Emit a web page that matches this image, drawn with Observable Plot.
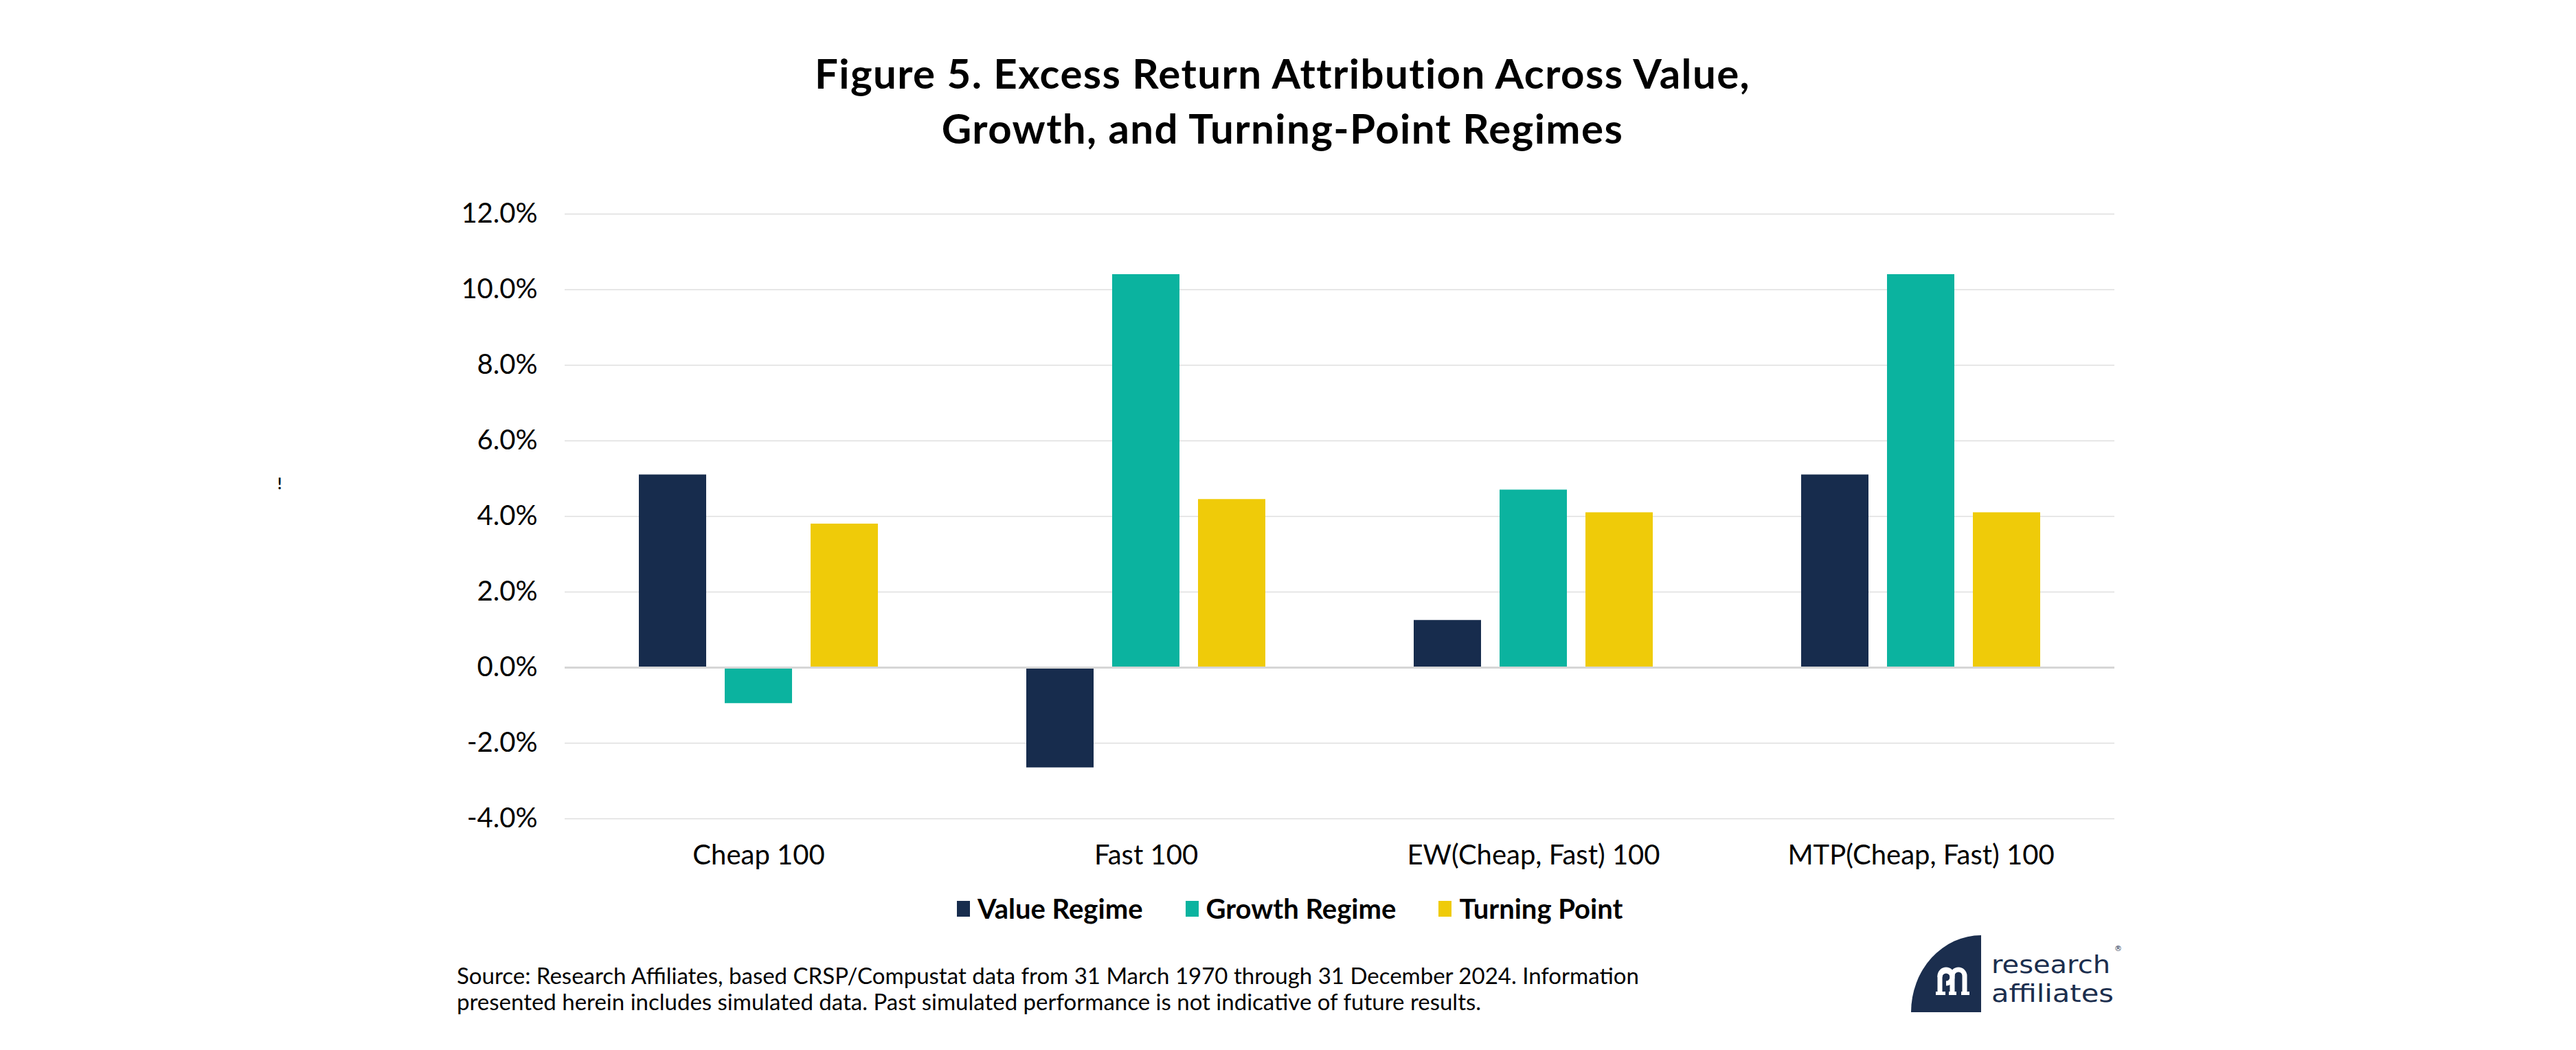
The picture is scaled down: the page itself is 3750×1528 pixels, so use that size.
<!DOCTYPE html>
<html>
<head>
<meta charset="utf-8">
<script src="https://cdn.jsdelivr.net/npm/d3@7"></script>
<script src="https://cdn.jsdelivr.net/npm/@observablehq/plot@0.6"></script>
<style>
  html, body { margin: 0; padding: 0; background: #fff; }
  #page { position: relative; width: 3750px; height: 1528px; overflow: hidden; font-family: Lato, "Open Sans", sans-serif; color: #000; }
  .abs { position: absolute; }
  #title { left: 0; width: 3734px; top: 66px; text-align: center; font-weight: 700; font-size: 60px; letter-spacing: 1.4px; line-height: 80px; }
  #chart { left: 0; top: 250px; }
  #legend { left: 1393px; top: 1302px; display: flex; align-items: center; font-weight: 700; font-size: 40px; line-height: 40px; }
  .item { display: flex; align-items: center; margin-right: 62px; }
  .sw { width: 19px; height: 23px; margin-right: 11px; }
  #source { left: 665px; top: 1400px; font-size: 33px; line-height: 38px; }
  #bang { left: 404px; top: 690px; font-size: 22px; font-weight: 700; }
</style>
</head>
<body>
<div id="page">
  <div id="title" class="abs">Figure 5. Excess Return Attribution Across Value,<br>Growth, and Turning-Point Regimes</div>
  <div id="bang" class="abs">!</div>
  <div id="chart" class="abs"></div>
  <div id="legend" class="abs"></div>
  <div id="source" class="abs">Source: Research Affiliates, based CRSP/Compustat data from 31 March 1970 through 31 December 2024. Information<br>presented herein includes simulated data. Past simulated performance is not indicative of future results.</div>
  <svg class="abs" style="left:0;top:0" width="3750" height="1528">
    <path d="M2884,1473 H2782 A102,112 0 0 1 2884,1361 Z" fill="#1b2e4e"/>
    <g fill="none" stroke="#fff" stroke-width="7">
      <path d="M2824,1447 V1420 A9,9 0 0 1 2842,1420 V1447"/>
      <path d="M2842,1420 A9,9 0 0 1 2860,1420 V1447"/>
      <path d="M2824,1422 A9,9 0 1 1 2833,1431"/>
    </g>
    <g fill="#fff">
      <rect x="2818" y="1443" width="14" height="5"/>
      <rect x="2837" y="1443" width="11" height="5"/>
      <rect x="2855" y="1443" width="12" height="5"/>
    </g>
    <text x="2899" y="1416" font-family="'DejaVu Sans', sans-serif" font-size="35" fill="#1b2e4e" textLength="173" lengthAdjust="spacingAndGlyphs">research</text>
    <text x="2899" y="1458" font-family="'DejaVu Sans', sans-serif" font-size="35" fill="#1b2e4e" textLength="178" lengthAdjust="spacingAndGlyphs">affiliates</text>
    <text x="3078" y="1384" font-family="'DejaVu Sans', sans-serif" font-size="11" fill="#1b2e4e">®</text>
  </svg>
</div>
<script>
const categories = ["Cheap 100", "Fast 100", "EW(Cheap, Fast) 100", "MTP(Cheap, Fast) 100"];
const seriesNames = ["Value Regime", "Growth Regime", "Turning Point"];
const seriesColors = ["#172c4d", "#0bb39f", "#efcb09"];
const valueRegime = [5.1, -2.65, 1.25, 5.1];
const growthRegime = [-0.95, 10.4, 4.7, 10.4];
const turningPoint = [3.8, 4.45, 4.1, 4.1];
const yTicks = [-4, -2, 0, 2, 4, 6, 8, 10, 12];

const seriesValues = [valueRegime, growthRegime, turningPoint];
const data = [];
categories.forEach((c, i) => {
  seriesNames.forEach((s, j) => data.push({category: c, series: s, value: seriesValues[j][i]}));
});

const chart = Plot.plot({
  width: 3750,
  height: 1030,
  marginLeft: 820,
  marginRight: 671,
  marginTop: 61,
  marginBottom: 89,
  style: {fontFamily: "Lato, 'Open Sans', sans-serif", fontSize: "40px", color: "#000", background: "transparent"},
  fx: {domain: categories, padding: 0, label: null, axis: "bottom", tickSize: 0, tickPadding: 38},
  x: {domain: seriesNames, paddingInner: 0.22, paddingOuter: 0.85, axis: null},
  y: {domain: [-4, 12], ticks: yTicks, tickFormat: d => d.toFixed(1) + "%", label: null, tickSize: 0, tickPadding: 40},
  color: {domain: seriesNames, range: seriesColors},
  marks: [
    Plot.ruleY(yTicks.filter(d => d !== 0), {stroke: "#dedede", strokeWidth: 1.5}),
    Plot.barY(data, {fx: "category", x: "series", y: "value", fill: "series"}),
    Plot.ruleY([0], {stroke: "#d6d6d6", strokeWidth: 3})
  ]
});
document.getElementById("chart").appendChild(chart);

const legend = document.getElementById("legend");
seriesNames.forEach((s, j) => {
  const item = document.createElement("div");
  item.className = "item";
  const sw = document.createElement("div");
  sw.className = "sw";
  sw.style.background = seriesColors[j];
  const t = document.createElement("span");
  t.textContent = s;
  item.appendChild(sw);
  item.appendChild(t);
  legend.appendChild(item);
});
</script>
</body>
</html>
